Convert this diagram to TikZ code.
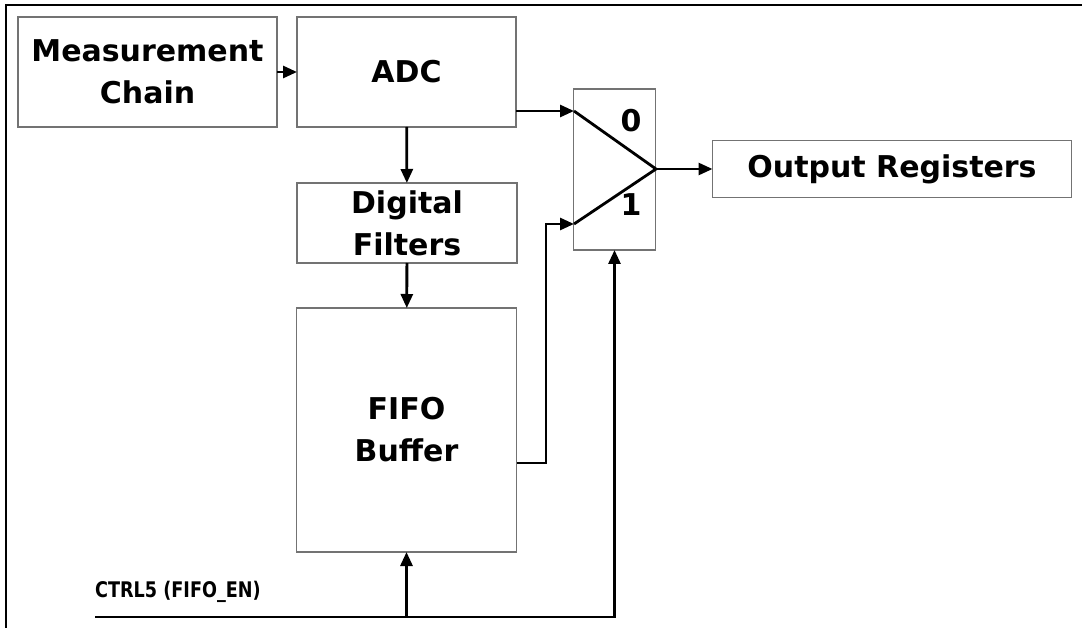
\documentclass[tikz,border=0pt]{standalone}
\usepackage{fontspec}
\setmainfont{DejaVu Sans}
\newfontfamily\ctrlfont{DejaVu Sans Bold}[FakeStretch=0.82]
\usetikzlibrary{arrows.meta}

\begin{document}
\begin{tikzpicture}[x=1pt,y=-1pt,
  blk/.style={draw=gray!90!black,line width=1.4pt,inner sep=0pt,outer sep=0pt,align=center,font=\fontsize{30}{42}\selectfont\bfseries},
  arr/.style={line width=2.8pt,-{Triangle[length=14pt,width=12pt]}},
  wire/.style={line width=2.8pt}]
\useasboundingbox (0,0) rectangle (1082,628);
\draw[line width=2pt](1082,5)--(6,5)--(6,628);
% blocks
\node[blk,minimum width=259pt,minimum height=110pt](chain)at(147.5,72){Measurement\\Chain};
\node[blk,minimum width=219pt,minimum height=110pt](adc)at(406.5,72){ADC};
\node[blk,minimum width=220pt,minimum height=80pt](filt)at(407,223){Digital\\Filters};
\node[blk,minimum width=220pt,minimum height=244pt](fifo)at(406.5,430){FIFO\\Buffer};
\node[blk,minimum width=359pt,minimum height=57pt](outreg)at(892,169){Output Registers};
% multiplexer
\node[blk,minimum width=82pt,minimum height=161pt](mux)at(614.5,169.5){};
\coordinate(in0)at(574,111);
\coordinate(in1)at(574,224);
\coordinate(apex)at(656,169);
\draw[wire](in0)--(apex)--(in1);
\node[blk,draw=none](sel0)at(631,121){0};
\node[blk,draw=none](sel1)at(631,205){1};
% data path
\draw[arr](chain)--(adc);
\draw[arr](adc)--(filt);
\draw[arr](filt)--(fifo);
\draw[arr](adc.east|-in0)--(in0);
\coordinate(bend)at(546,463);
\draw[arr](fifo.east|-bend)--(bend)|-(in1);
\draw[arr](apex)--(outreg);
% enable line
\coordinate(ctrl)at(95,617);
\node[anchor=south west,inner sep=0pt,font=\fontsize{21.5}{24}\ctrlfont](ctrllbl)at(95,603){CTRL5 (FIFO\_EN)};
\draw[arr](ctrl)-|(mux);
\draw[arr](fifo.south|-ctrl)--(fifo);
\end{tikzpicture}
\end{document}
